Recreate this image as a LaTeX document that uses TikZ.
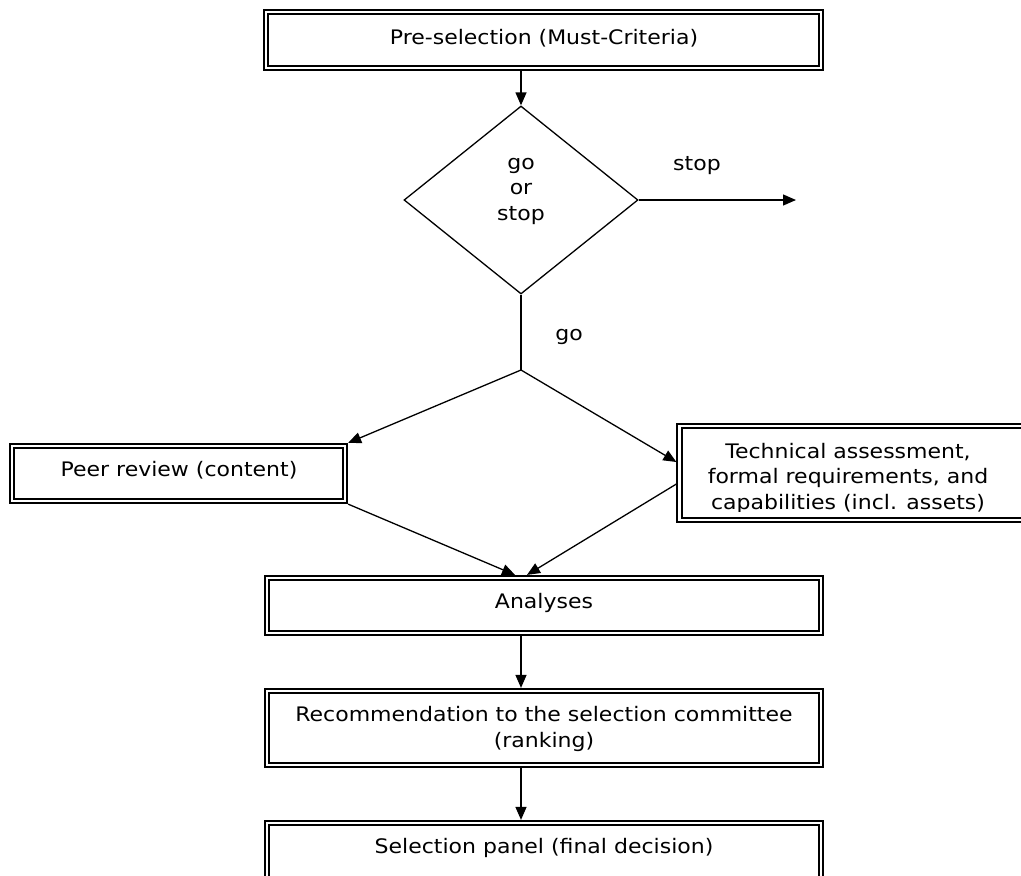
\documentclass[tikz,border=0pt]{standalone}
\usepackage{fontspec}
\setmainfont[FakeStretch=1.1]{DejaVu Sans}
\usetikzlibrary{shapes.geometric,arrows.meta}
\tikzset{
  dbl/.style={draw=black, double=white, double distance=2.8pt, line width=1.7pt},
  boxnode/.style={dbl, inner sep=0pt, outer sep=3.1pt, align=center},
  conn/.style={line width=1.3pt, draw=black},
  arr/.style={conn, -{Triangle[length=13pt,width=11pt]}},
  txt/.style={font=\fontsize{20}{25.5}\selectfont, align=center, inner sep=0pt}
}
\begin{document}
\begin{tikzpicture}[x=1pt,y=-1pt]
\useasboundingbox (0,0) rectangle (1021,876);
\node[boxnode, minimum width=555pt, minimum height=56pt] (pre) at (543.5,40) {};
\node[txt] (pretxt) at (544,38) {Pre-selection (Must-Criteria)};
\node[diamond, draw, line width=1.3pt, minimum width=234pt, minimum height=188pt, inner sep=0pt] (dec) at (521,200) {};
\node[txt] (dectxt) at (521,191) {go\\or\\stop};
\node[txt] (stoplbl) at (697,166) {stop};
\coordinate (stopend) at (796,200);
\coordinate (split) at (521,370);
\node[txt] (golbl) at (569,337) {go};
\node[boxnode, minimum width=333pt, minimum height=55pt] (peer) at (178.5,473.5) {};
\node[txt] (peertxt) at (179,470) {Peer review (content)};
\begin{scope}
\clip (676,420) rectangle (1021,511);
\node[txt] (techtxt) at (848,478) {Technical assessment,\\formal requirements, and\\capabilities (incl. assets)};
\end{scope}
\node[boxnode, minimum width=352pt, minimum height=94pt] (tech) at (855.5,473) {};
\node[boxnode, minimum width=554pt, minimum height=55pt] (ana) at (544,605.5) {};
\node[txt] (anatxt) at (544,603) {Analyses};
\node[boxnode, minimum width=554pt, minimum height=74pt] (rec) at (544,728) {};
\node[txt] (rectxt) at (544,729) {Recommendation to the selection committee\\(ranking)};
\node[boxnode, minimum width=554pt, minimum height=70pt] (sel) at (544,858) {};
\node[txt] (seltxt) at (544,848) {Selection panel (final decision)};
\draw[arr] (pre.south -| dec.north) -- (dec.north);
\draw[arr] (dec.east) -- (stopend);
\draw[conn] (dec.south) -- (split);
\draw[arr] (split) -- (peer.north east);
\draw[arr] (split) -- ([yshift=11pt]tech.west);
\draw[arr] (peer.south east) -- ([xshift=-29pt]ana.north);
\draw[arr] ([yshift=-11pt]tech.west) -- ([xshift=-17pt]ana.north);
\draw[arr] (ana.south -| dec.south) -- (rec.north -| dec.south);
\draw[arr] (rec.south -| dec.south) -- (sel.north -| dec.south);
\end{tikzpicture}
\end{document}
